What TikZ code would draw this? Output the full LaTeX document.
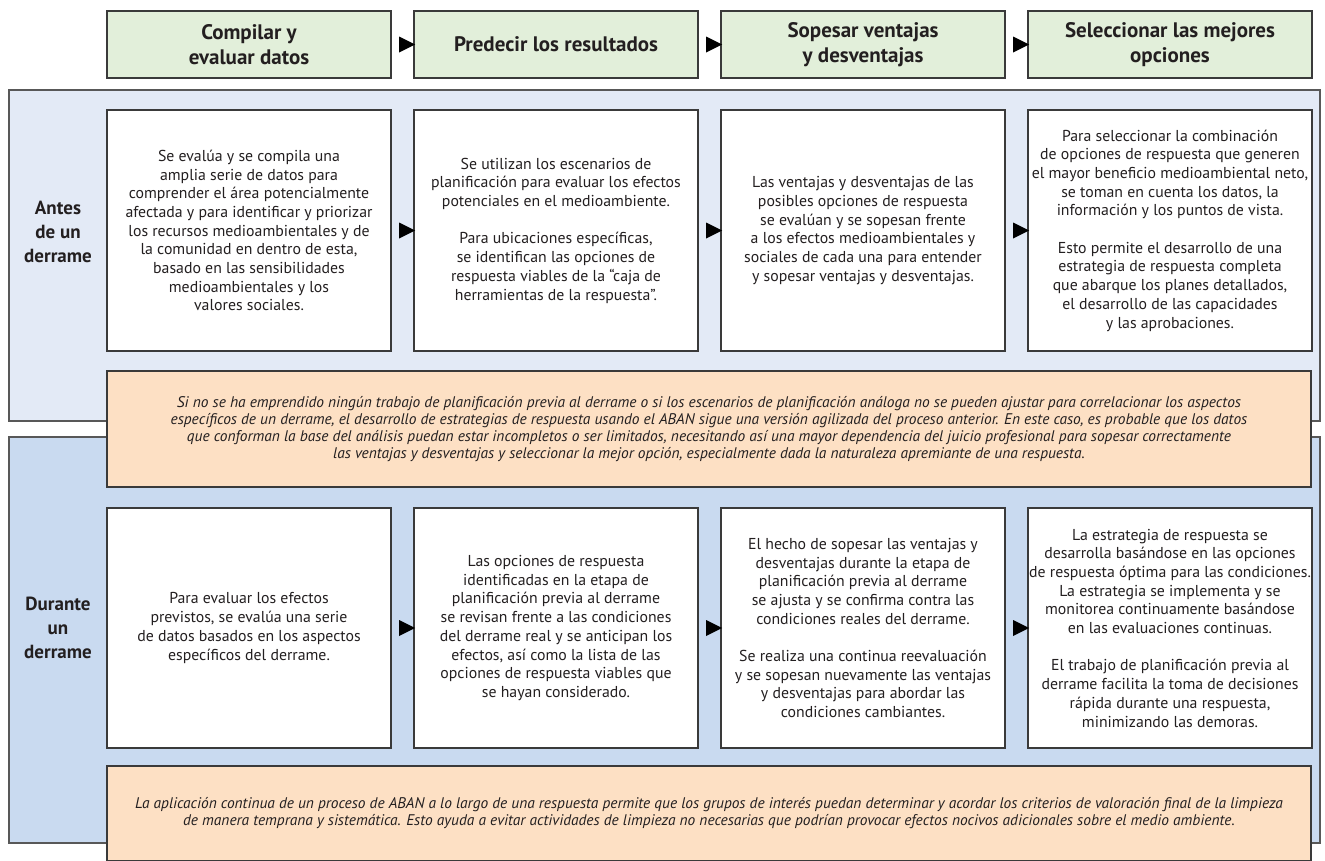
\documentclass[tikz,border=0pt]{standalone}
\usepackage{fontspec}
\setmainfont{PT Sans}
\usetikzlibrary{shapes.geometric}
\definecolor{ink}{HTML}{231F20}
\definecolor{edge}{HTML}{3A3A3A}
\definecolor{hdrfill}{HTML}{E2EFDA}
\definecolor{panelA}{HTML}{E3EAF6}
\definecolor{panelB}{HTML}{C9DAF0}
\definecolor{notefill}{HTML}{FDE0C4}

\begin{document}
\begin{tikzpicture}[x=1pt,y=-1pt, text=ink,
  box/.style={draw=edge, line width=1.2pt, anchor=north west, inner sep=0pt, outer sep=0pt, align=center},
  hdr/.style={box, fill=hdrfill, minimum width=284pt, minimum height=67pt, font=\bfseries\fontsize{21}{25}\selectfont},
  panel/.style={box, draw=edge!85, line width=1.3pt, minimum width=1311pt},
  cell/.style={box, fill=white, minimum width=284pt, font=\fontsize{15.8}{18.7}\selectfont},
  note/.style={box, fill=notefill, minimum width=1204pt, font=\itshape\fontsize{15.4}{17}\selectfont},
  rowlabel/.style={font=\bfseries\fontsize{19}{24}\selectfont, align=center, inner sep=0pt},
  tri/.style={isosceles triangle, isosceles triangle stretches, fill=black, draw=none,
    minimum width=16pt, minimum height=16pt, inner sep=0pt, outer sep=0pt}
]
\clip (0,0) rectangle (1325,860);
\fill[white] (0,0) rectangle (1325,860);

% background bands for the two phases
\node[panel, fill=panelA, minimum height=331pt] (bandA) at (9,90) {};
\node[panel, fill=panelB, minimum height=406pt] (bandB) at (9,437) {};

% step headers
\node[hdr] (h1) at (107,11) {Compilar y\\evaluar datos};
\node[hdr] (h2) at (414,11) {Predecir los resultados};
\node[hdr] (h3) at (721,11) {Sopesar ventajas\\y desventajas};
\node[hdr] (h4) at (1028,11) {Seleccionar las mejores\\opciones};

% row labels
\node[rowlabel] (lblA) at (58,232) {Antes\\de un\\derrame};
\node[rowlabel] (lblB) at (58,628) {Durante\\un\\derrame};

% before a spill
\node[cell, minimum height=241pt] (a1) at (107,110) {Se evalúa y se compila una\\amplia serie de datos para\\comprender el área potencialmente\\afectada y para identificar y priorizar\\los recursos medioambientales y de\\la comunidad en dentro de esta,\\basado en las sensibilidades\\medioambientales y los\\valores sociales.};
\node[cell, minimum height=241pt] (a2) at (414,110) {Se utilizan los escenarios de\\planificación para evaluar los efectos\\potenciales en el medioambiente.\\[18.7pt]Para ubicaciones específicas,\\se identifican las opciones de\\respuesta viables de la “caja de\\herramientas de la respuesta”.};
\node[cell, minimum height=241pt] (a3) at (721,110) {Las ventajas y desventajas de las\\posibles opciones de respuesta\\se evalúan y se sopesan frente\\a los efectos medioambientales y\\sociales de cada una para entender\\y sopesar ventajas y desventajas.};
\node[cell, minimum height=241pt] (a4) at (1028,110) {Para seleccionar la combinación\\de opciones de respuesta que generen\\el mayor beneficio medioambiental neto,\\se toman en cuenta los datos, la\\información y los puntos de vista.\\[18.7pt]Esto permite el desarrollo de una\\estrategia de respuesta completa\\que abarque los planes detallados,\\el desarrollo de las capacidades\\y las aprobaciones.};

\node[note, minimum height=116pt] (n1) at (107,371) {Si no se ha emprendido ningún trabajo de planificación previa al derrame o si los escenarios de planificación análoga no se pueden ajustar para correlacionar los aspectos\\específicos de un derrame, el desarrollo de estrategias de respuesta usando el ABAN sigue una versión agilizada del proceso anterior. En este caso, es probable que los datos\\que conforman la base del análisis puedan estar incompletos o ser limitados, necesitando así una mayor dependencia del juicio profesional para sopesar correctamente\\las ventajas y desventajas y seleccionar la mejor opción, especialmente dada la naturaleza apremiante de una respuesta.};

% during a spill
\node[cell, minimum height=240pt] (b1) at (107,508) {Para evaluar los efectos\\previstos, se evalúa una serie\\de datos basados en los aspectos\\específicos del derrame.};
\node[cell, minimum height=240pt] (b2) at (414,508) {Las opciones de respuesta\\identificadas en la etapa de\\planificación previa al derrame\\se revisan frente a las condiciones\\del derrame real y se anticipan los\\efectos, así como la lista de las\\opciones de respuesta viables que\\se hayan considerado.};
\node[cell, minimum height=240pt] (b3) at (721,508) {El hecho de sopesar las ventajas y\\desventajas durante la etapa de\\planificación previa al derrame\\se ajusta y se confirma contra las\\condiciones reales del derrame.\\[18.7pt]Se realiza una continua reevaluación\\y se sopesan nuevamente las ventajas\\y desventajas para abordar las\\condiciones cambiantes.};
\node[cell, minimum height=240pt] (b4) at (1028,508) {La estrategia de respuesta se\\desarrolla basándose en las opciones\\de respuesta óptima para las condiciones.\\La estrategia se implementa y se\\monitorea continuamente basándose\\en las evaluaciones continuas.\\[18.7pt]El trabajo de planificación previa al\\derrame facilita la toma de decisiones\\rápida durante una respuesta,\\minimizando las demoras.};

\node[note, minimum height=95pt] (n2) at (107,766) {La aplicación continua de un proceso de ABAN a lo largo de una respuesta permite que los grupos de interés puedan determinar y acordar los criterios de valoración final de la limpieza\\de manera temprana y sistemática. Esto ayuda a evitar actividades de limpieza no necesarias que podrían provocar efectos nocivos adicionales sobre el medio ambiente.};

% flow markers between consecutive steps
\foreach \r in {h,a,b}{
  \path (\r1.east) -- (\r2.west) node[midway, tri, xshift=1.5pt] (\r t12) {};
  \path (\r2.east) -- (\r3.west) node[midway, tri, xshift=1.5pt] (\r t23) {};
  \path (\r3.east) -- (\r4.west) node[midway, tri, xshift=1.5pt] (\r t34) {};
}
\end{tikzpicture}
\end{document}
